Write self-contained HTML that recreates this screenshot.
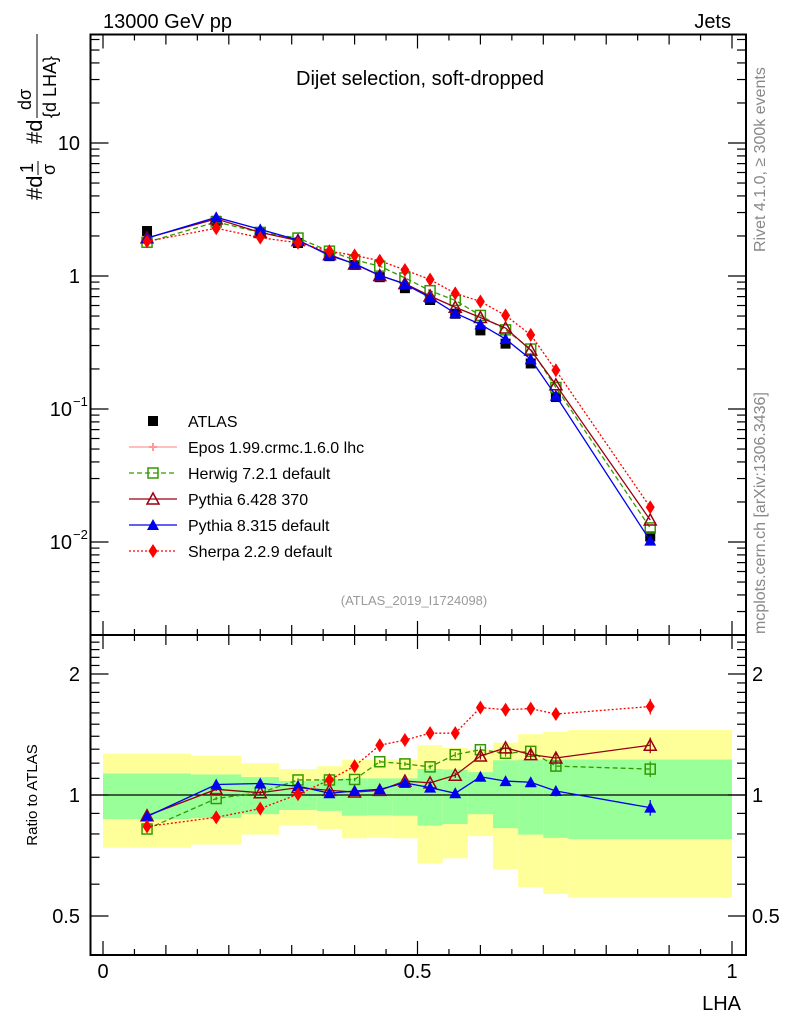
<!DOCTYPE html>
<html><head><meta charset="utf-8"><style>
body{margin:0;background:#fff}
svg{display:block;font-family:"Liberation Sans",sans-serif}
</style></head><body>
<svg id="c" width="786" height="1024" viewBox="0 0 786 1024" xmlns="http://www.w3.org/2000/svg">
<rect x="0" y="0" width="786" height="1024" fill="#fff"/>
<g id="bands"></g>
<g id="axes"></g>
<g id="series"></g>
<text x="103" y="28" font-size="20">13000 GeV pp</text>
<text x="731" y="28" font-size="20" text-anchor="end">Jets</text>
<text x="420" y="85" font-size="20" text-anchor="middle">Dijet selection, soft-dropped</text>
<text x="414" y="605" font-size="13" fill="#999" text-anchor="middle">(ATLAS_2019_I1724098)</text>
<text transform="translate(765,252) rotate(-90)" font-size="16" fill="#888">Rivet 4.1.0, ≥ 300k events</text>
<text transform="translate(765,634) rotate(-90)" font-size="16" fill="#888">mcplots.cern.ch [arXiv:1306.3436]</text>
<g transform="translate(42,200) rotate(-90)" font-size="22">
<text x="0" y="0">#d</text><text x="27" y="-9" font-size="18">1</text><line x1="25" y1="-4" x2="39" y2="-4" stroke="#000"/><text x="25" y="13" font-size="18">σ</text>
<text x="56" y="0">#d</text><text x="90" y="-11" font-size="18">dσ</text><line x1="82" y1="-5" x2="166" y2="-5" stroke="#000"/><text x="82" y="14" font-size="18">{d LHA}</text>
</g>
<text transform="translate(37,795) rotate(-90)" font-size="15" text-anchor="middle">Ratio to ATLAS</text>
<text x="741" y="1010" font-size="20" text-anchor="end">LHA</text>
<g id="legend"></g>
</svg>
<script>
const binEdges=[0,0.14,0.22,0.28,0.34,0.38,0.42,0.46,0.50,0.54,0.58,0.62,0.66,0.70,0.74,1.0];
const xCenters=[0.07,0.18,0.25,0.31,0.36,0.40,0.44,0.48,0.52,0.56,0.60,0.64,0.68,0.72,0.87];
const atlas=[2.18,2.6,2.1,1.77,1.41,1.21,0.98,0.81,0.66,0.52,0.39,0.31,0.22,0.123,0.011];
const yellowHi=[1.267,1.253,1.20,1.16,1.18,1.225,1.225,1.225,1.33,1.31,1.30,1.35,1.417,1.436,1.452];
const yellowLo=[0.739,0.753,0.797,0.839,0.823,0.78,0.785,0.78,0.675,0.696,0.79,0.653,0.59,0.567,0.555];
const greenHi=[1.131,1.125,1.108,1.083,1.093,1.10,1.10,1.10,1.16,1.157,1.14,1.22,1.225,1.225,1.225];
const greenLo=[0.871,0.876,0.896,0.918,0.913,0.888,0.89,0.888,0.839,0.847,0.896,0.827,0.797,0.782,0.777];
const herwigR=[0.823,0.98,1.013,1.09,1.09,1.093,1.21,1.195,1.175,1.26,1.296,1.27,1.284,1.18,1.16];
const py6R=[0.888,1.033,1.013,1.043,1.027,1.017,1.027,1.083,1.072,1.12,1.25,1.31,1.26,1.236,1.33];
const py8R=[0.884,1.062,1.068,1.052,1.01,1.023,1.033,1.072,1.043,1.01,1.11,1.083,1.076,1.023,0.93];
const sherpaR=[0.835,0.88,0.925,1.004,1.09,1.18,1.33,1.37,1.425,1.425,1.65,1.63,1.64,1.59,1.66];
const ratioErr=[0.01,0.01,0.01,0.01,0.01,0.01,0.01,0.012,0.012,0.015,0.02,0.02,0.025,0.03,0.045];

const NS="http://www.w3.org/2000/svg";
const svg=document.getElementById('c');
function mk(tag,attrs,parent){const e=document.createElementNS(NS,tag);for(const k in attrs)e.setAttribute(k,attrs[k]);(parent||svg).appendChild(e);return e;}
const L=90.5,R=746,T=34.5,MB=635,RB=955;
const X=v=>103+629*v;
const Y=v=>276-133*Math.log10(v);
const YR=v=>795-402*Math.log10(v);

const bands=document.getElementById('bands');
for(let i=0;i<xCenters.length;i++){
  const x0=X(binEdges[i]),x1=X(binEdges[i+1]);
  const y=mk('rect',{x:x0,y:YR(yellowHi[i]),width:x1-x0,height:YR(yellowLo[i])-YR(yellowHi[i]),fill:'#ffff99'},bands);
  
  
  const g=mk('rect',{x:x0,y:YR(greenHi[i]),width:x1-x0,height:YR(greenLo[i])-YR(greenHi[i]),fill:'#99ff99'},bands);
  
  
}

const ax=document.getElementById('axes');
mk('rect',{x:L,y:T,width:R-L,height:MB-T,fill:'none',stroke:'#000','stroke-width':2},ax);
mk('rect',{x:L,y:MB,width:R-L,height:RB-MB,fill:'none',stroke:'#000','stroke-width':2},ax);
mk('line',{x1:L,x2:R,y1:YR(1),y2:YR(1),stroke:'#000','stroke-width':1.3},ax);
for(let k=0;k<=20;k++){const v=k*0.05,x=X(v),len=(k%10==0)?14:(k%2==0?10:6);
  [[MB,-1],[T,1],[RB,-1],[MB,1]].forEach(([y0,d])=>mk('line',{x1:x,x2:x,y1:y0,y2:y0+d*len,stroke:'#000','stroke-width':1.2},ax));}
[[0,"0"],[0.5,"0.5"],[1,"1"]].forEach(([v,t])=>{const e=mk('text',{x:X(v),y:978,'font-size':20,'text-anchor':'middle'},ax);e.textContent=t;});
for(let d=-3;d<=1;d++)for(let m=1;m<=9;m++){const v=m*Math.pow(10,d),y=Y(v);if(y<T||y>MB)continue;const len=m==1?18:9;
  mk('line',{x1:L,x2:L+len,y1:y,y2:y,stroke:'#000','stroke-width':1.2},ax);mk('line',{x1:R,x2:R-len,y1:y,y2:y,stroke:'#000','stroke-width':1.2},ax);}
[[10,"10",""],[1,"1",""],[0.1,"10","−1"],[0.01,"10","−2"]].forEach(([v,t,s])=>{const e=mk('text',{x:s?72:80,y:Y(v)+7,'font-size':20,'text-anchor':'end'},ax);e.textContent=t;
  if(s){const q=mk('text',{x:73,y:Y(v)-3,'font-size':13},ax);q.textContent=s;}});
for(let v=0.4;v<=2.5;v+=0.1){const y=YR(v);if(y<MB||y>RB)continue;const maj=Math.abs(v-0.5)<1e-6||Math.abs(v-1)<1e-6||Math.abs(v-2)<1e-6;const len=maj?18:9;
  mk('line',{x1:L,x2:L+len,y1:y,y2:y,stroke:'#000','stroke-width':1.2},ax);mk('line',{x1:R,x2:R-len,y1:y,y2:y,stroke:'#000','stroke-width':1.2},ax);}
[[2,"2"],[1,"1"],[0.5,"0.5"]].forEach(([v,t])=>{const a=mk('text',{x:80,y:YR(v)+7,'font-size':20,'text-anchor':'end'},ax);a.textContent=t;const b=mk('text',{x:752,y:YR(v)+7,'font-size':20},ax);b.textContent=t;});

function marker(g,type,x,y,color,s){
  if(type=='sq')mk('rect',{x:x-s,y:y-s,width:2*s,height:2*s,fill:color},g);
  else if(type=='osq')mk('rect',{x:x-5,y:y-5,width:10,height:10,fill:'none',stroke:color,'stroke-width':1.5},g);
  else if(type=='otri')mk('path',{d:`M${x} ${y-6}L${x+6} ${y+5}L${x-6} ${y+5}Z`,fill:'none',stroke:color,'stroke-width':1.5},g);
  else if(type=='tri')mk('path',{d:`M${x} ${y-6}L${x+6} ${y+5}L${x-6} ${y+5}Z`,fill:color},g);
  else if(type=='dia')mk('path',{d:`M${x} ${y-7}L${x+4.5} ${y}L${x} ${y+7}L${x-4.5} ${y}Z`,fill:color},g);
  else if(type=='cross')mk('path',{d:`M${x-4} ${y}H${x+4}M${x} ${y-4}V${y+4}`,stroke:color,'stroke-width':2},g);
}
const ser=document.getElementById('series');
const models=[
 {name:'herwig',r:herwigR,c:'#339900',t:'osq',dash:'5,3'},
 {name:'pythia6',r:py6R,c:'#990011',t:'otri',dash:''},
 {name:'pythia8',r:py8R,c:'#0000ee',t:'tri',dash:''},
 {name:'sherpa',r:sherpaR,c:'#ff0000',t:'dia',dash:'2,2'}];
const ag=mk('g',{},ser);


xCenters.forEach((v,i)=>marker(ag,'sq',X(v),Y(atlas[i]),'#000',5));
models.forEach(m=>{
  const g=mk('g',{},ser);
  
  
  const main=xCenters.map((v,i)=>X(v)+','+Y(atlas[i]*m.r[i])).join(' ');
  mk('polyline',{points:main,fill:'none',stroke:m.c,'stroke-width':1.3,'stroke-dasharray':m.dash},g);
  const rat=xCenters.map((v,i)=>X(v)+','+YR(m.r[i])).join(' ');
  mk('polyline',{points:rat,fill:'none',stroke:m.c,'stroke-width':1.3,'stroke-dasharray':m.dash},g);
  xCenters.forEach((v,i)=>{marker(g,m.t,X(v),Y(atlas[i]*m.r[i]),m.c,5);
    const e=ratioErr[i]*m.r[i];mk('line',{x1:X(v),x2:X(v),y1:YR(m.r[i]+e),y2:YR(m.r[i]-e),stroke:m.c,'stroke-width':1.2},g);
    marker(g,m.t,X(v),YR(m.r[i]),m.c,5);});
});

const lg=document.getElementById('legend');
const entries=[['ATLAS','#000','sq',''],['Epos 1.99.crmc.1.6.0 lhc','#ff9999','cross',''],['Herwig 7.2.1 default','#339900','osq','5,3'],['Pythia 6.428 370','#990011','otri',''],['Pythia 8.315 default','#0000ee','tri',''],['Sherpa 2.2.9 default','#ff0000','dia','2,2']];
entries.forEach((e,i)=>{const y=421+i*26;const g=mk('g',{},lg);
  
  
  if(i>0)mk('line',{x1:129,x2:177,y1:y,y2:y,stroke:e[1],'stroke-width':1.3,'stroke-dasharray':e[3]},g);
  marker(g,e[2],153,y,e[1],5);
  const t=mk('text',{x:188,y:y+6,'font-size':16},g);t.textContent=e[0];});
</script>
</body></html>
